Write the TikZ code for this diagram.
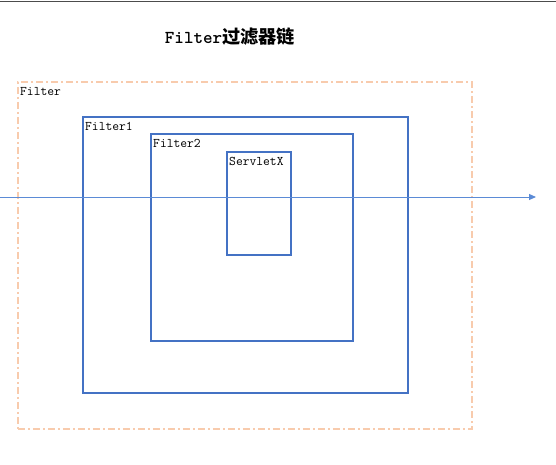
\documentclass[tikz,border=0pt]{standalone}
\usepackage{fontspec}
\usepackage{tikz}
\usetikzlibrary{arrows.meta}
\usetikzlibrary{positioning}
\newfontfamily\cjk{Noto Sans CJK SC}
\definecolor{boxblue}{HTML}{4472C4}
\definecolor{flowblue}{HTML}{5B8BD6}
\definecolor{peach}{HTML}{F8CBAD}
\tikzset{blbox/.style = {draw = boxblue, line width = 1.5pt, inner sep = 0, anchor = north west},
  lbl/.style = {font = \ttfamily\fontsize{13.2}{14}\selectfont, inner sep = 2.5pt, anchor = north west, xshift = 0.5pt, yshift = -3.5pt}}

\begin{document}
\begin{tikzpicture}[x = 1pt, y = -1pt]
    \useasboundingbox (0, 0) rectangle (556, 464);
    \draw [line width = 1.2pt, black!70] (0, 1.5) -- (556, 1.5);
    \node [font = \ttfamily\bfseries\fontsize{18.2}{20}\selectfont, inner sep = 0] (title) at (230, 37) {Filter{\cjk\bfseries 过滤器链}};
    \node [draw = peach, line width = 1.5pt, dash pattern = on 7pt off 3pt on 2pt off 3pt, inner sep = 0, anchor = north west,
      minimum width = 454, minimum height = 347] (chain) at (17, 81) {};
    \node [lbl] at (chain.north west) {Filter};
    \node [blbox, minimum width = 325, minimum height = 276] (filter1) at (82, 116) {};
    \node [lbl] at (filter1.north west) {Filter1};
    \node [blbox, minimum width = 202, minimum height = 207] (filter2) at (150, 133) {};
    \node [lbl] at (filter2.north west) {Filter2};
    \node [blbox, minimum width = 64, minimum height = 103] (servlet) at (226, 151) {};
    \node [lbl] at (servlet.north west) {ServletX};
    \coordinate (in) at (0, 197);
    \coordinate (out) at (536, 197);
    \draw [-{Triangle[length = 7pt, width = 6pt]}, flowblue, line width = 1pt] (in) -- (out);
  \end{tikzpicture}
\end{document}
